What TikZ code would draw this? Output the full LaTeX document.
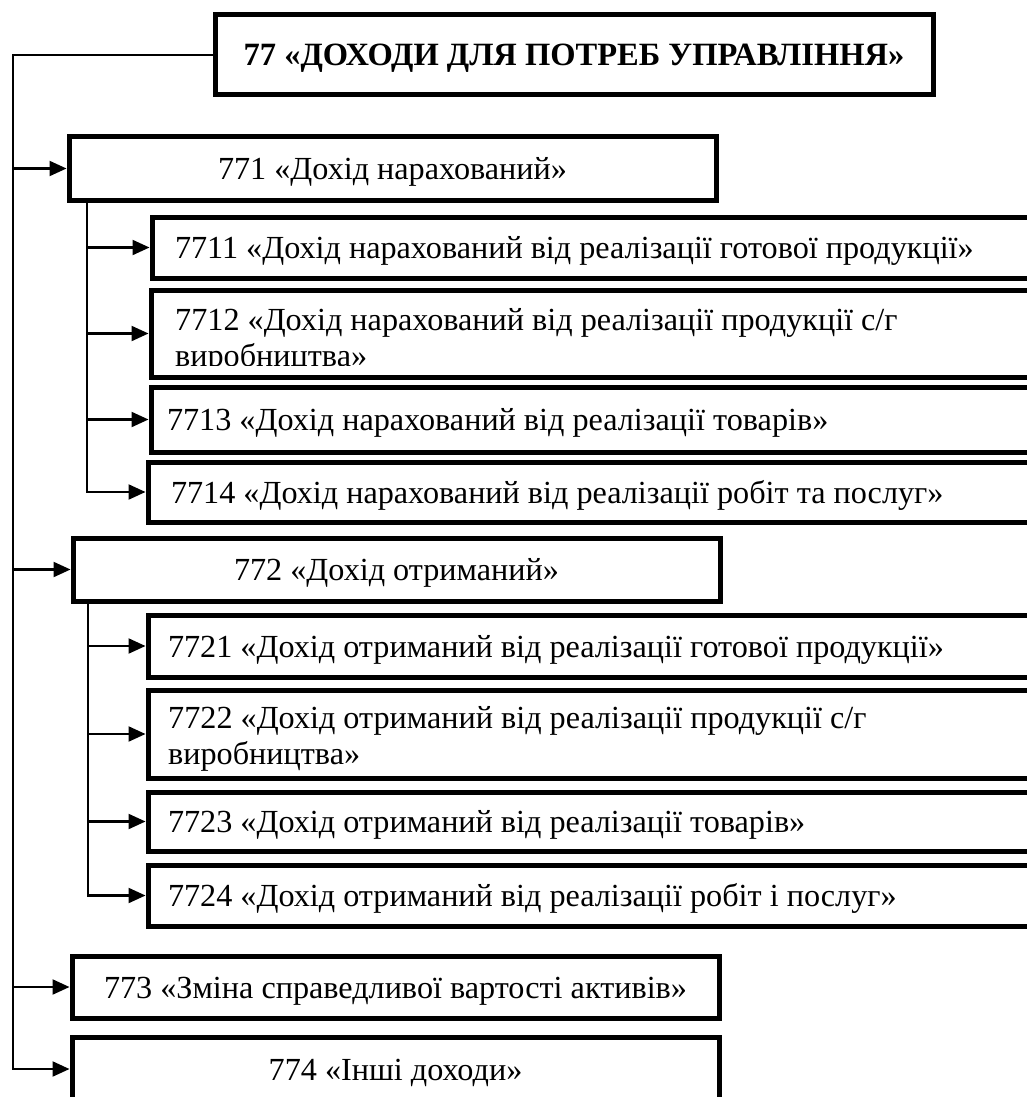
\documentclass[tikz,border=0pt]{standalone}
\usepackage{fontspec}
\setmainfont{Liberation Serif}
\usetikzlibrary{arrows.meta}
\newcommand\bodysize{\fontsize{32.2}{36}\selectfont}
\newcommand\titlesize{\fontsize{32.5}{36}\selectfont}
\newcommand\lefttext[2]{\makebox[#1][l]{#2}}
\begin{document}
\begin{tikzpicture}[x=1pt,y=-1pt,
  box/.style={draw, line width=5pt, inner sep=0pt, font=\bodysize, text height=22pt, text depth=0pt},
  conn/.style={line width=2.2pt},
  arr/.style={conn, -{Triangle[length=17pt,width=15pt]}},
  lbl/.style={font=\bodysize, inner sep=0pt, anchor=base west}
]
\useasboundingbox (0,0) rectangle (1027,1097);
\clip (0,0) rectangle (1027,1097);

% main box
\node[box, font=\titlesize\bfseries, minimum width=718pt, minimum height=80pt] (n77) at (574,55) {77 «ДОХОДИ ДЛЯ ПОТРЕБ УПРАВЛІННЯ»};

% level 1
\node[box, minimum width=647pt, minimum height=63pt] (n771) at (392.5,168.5) {771 «Дохід нарахований»};
\node[box, minimum width=647pt, minimum height=63pt] (n772) at (396.5,569.5) {772 «Дохід отриманий»};
\node[box, minimum width=647pt, minimum height=62pt] (n773) at (395.5,987) {773 «Зміна справедливої вартості активів»};
\node[box, minimum width=647pt, minimum height=64pt] (n774) at (395.5,1069) {774 «Інші доходи»};

% level 2 under 771
\node[box, minimum width=893pt, minimum height=61pt, inner xsep=23pt] (n7711) at (598.5,247.5) {\lefttext{847pt}{7711 «Дохід нарахований від реалізації готової продукції»}};
\begin{scope}
  \clip (151,290) rectangle (1027,365);
  \node[lbl] (n7712a) at (175,330) {7712 «Дохід нарахований від реалізації продукції с/г};
  \node[lbl] (n7712b) at (175,366) {виробництва»};
\end{scope}
\node[box, minimum width=894pt, minimum height=87pt] (n7712) at (598,333.5) {};
\node[box, minimum width=894pt, minimum height=65pt, inner xsep=16pt] (n7713) at (598,419.5) {\lefttext{862pt}{7713 «Дохід нарахований від реалізації товарів»}};
\node[box, minimum width=897pt, minimum height=60pt, inner xsep=23pt] (n7714) at (596.5,492) {\lefttext{851pt}{7714 «Дохід нарахований від реалізації робіт та послуг»}};

% level 2 under 772
\node[box, minimum width=897pt, minimum height=62pt, inner xsep=20pt] (n7721) at (596.5,646) {\lefttext{857pt}{7721 «Дохід отриманий від реалізації готової продукції»}};
\node[lbl] (n7722a) at (168,728) {7722 «Дохід отриманий від реалізації продукції с/г};
\node[lbl] (n7722b) at (168,764) {виробництва»};
\node[box, minimum width=897pt, minimum height=88pt] (n7722) at (596.5,734) {};
\node[box, minimum width=897pt, minimum height=59pt, inner xsep=20pt] (n7723) at (596.5,821.5) {\lefttext{857pt}{7723 «Дохід отриманий від реалізації товарів»}};
\node[box, minimum width=897pt, minimum height=61pt, inner xsep=20pt] (n7724) at (596.5,895.5) {\lefttext{857pt}{7724 «Дохід отриманий від реалізації робіт і послуг»}};

% main trunk
\coordinate (t) at (13,0);
\draw[arr] (n77.west) -- (t |- n77.west) -- (t |- n774.west) -- (n774.west);
\draw[arr] (t |- n771.west) -- (n771.west);
\draw[arr] (t |- n772.west) -- (n772.west);
\draw[arr] (t |- n773.west) -- (n773.west);

% sub trunk 771
\coordinate (s1) at (87,0);
\draw[arr] (s1 |- n771.south) -- (s1 |- n7714.west) -- (n7714.west);
\draw[arr] (s1 |- n7711.west) -- (n7711.west);
\draw[arr] (s1 |- n7712.west) -- (n7712.west);
\draw[arr] (s1 |- n7713.west) -- (n7713.west);

% sub trunk 772
\coordinate (s2) at (88,0);
\draw[arr] (s2 |- n772.south) -- (s2 |- n7724.west) -- (n7724.west);
\draw[arr] (s2 |- n7721.west) -- (n7721.west);
\draw[arr] (s2 |- n7722.west) -- (n7722.west);
\draw[arr] (s2 |- n7723.west) -- (n7723.west);
\end{tikzpicture}
\end{document}
